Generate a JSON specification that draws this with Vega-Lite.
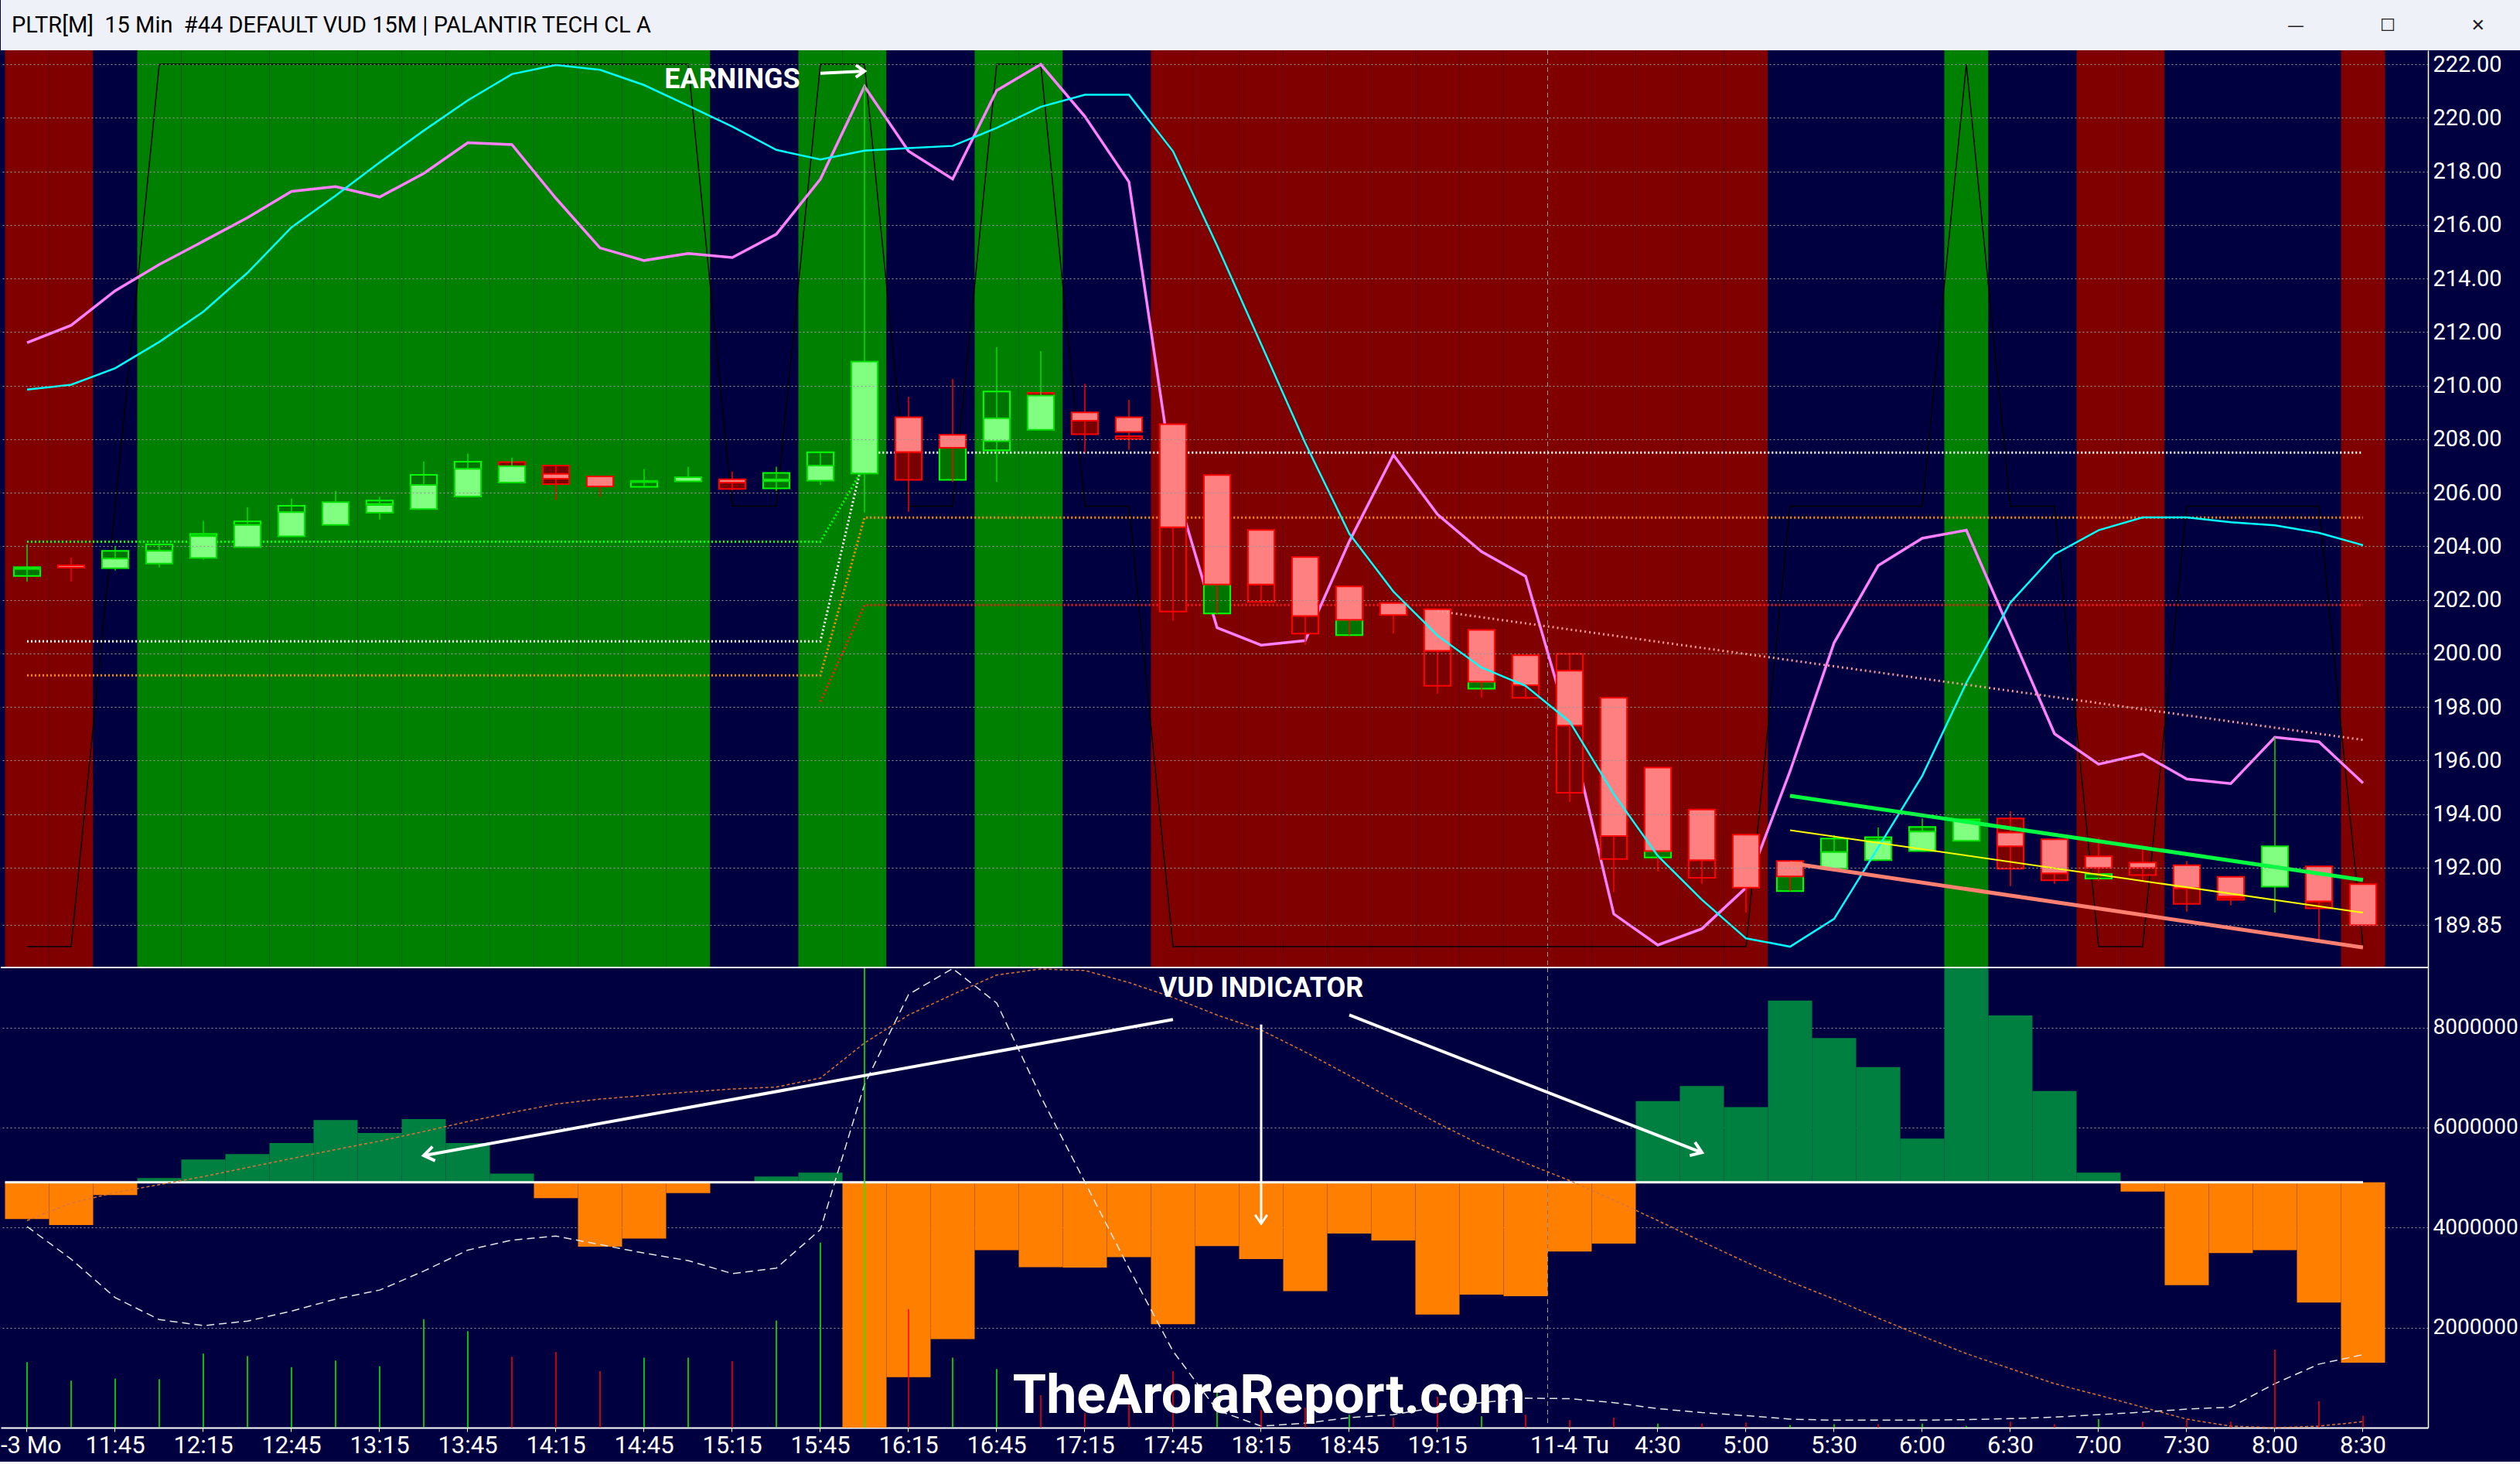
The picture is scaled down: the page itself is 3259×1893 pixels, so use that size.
{
  "$schema": "https://vega.github.io/schema/vega-lite/v6.json",
  "padding": {"left": 0, "top": 0, "right": 0, "bottom": 6},
  "background": "#000040",
  "spacing": 0,
  "bounds": "flush",
  "config": {"view": {"stroke": null}},
  "datasets": {
    "bars": [
      {"t":"11:15","i":0,"z":"R","sig":189.05,"o":203.16,"h":204.07,"l":202.68,"c":203.22,"s1":203.16,"s2":202.89,"sd":"up","ma":209.85,"osc":211.6,"vol":1310000,"vd":"up","vud":4170000,"wl":4020000,"ol":4140000},
      {"t":"11:30","i":1,"z":"R","sig":189.05,"o":203.29,"h":203.58,"l":202.68,"c":203.2,"ma":210.03,"osc":212.25,"vol":940000,"vd":"up","vud":4050000,"wl":3370000,"ol":4490000},
      {"t":"11:45","i":2,"z":"N","sig":205.5,"o":203.18,"h":204.01,"l":203.09,"c":203.54,"s1":203.83,"s2":203.54,"sd":"up","ma":210.65,"osc":213.54,"vol":980000,"vd":"up","vud":4650000,"wl":2600000,"ol":4700000},
      {"t":"12:00","i":3,"z":"G","sig":222,"o":203.35,"h":204.12,"l":203.21,"c":203.83,"s1":204.07,"s2":203.83,"sd":"up","ma":211.63,"osc":214.52,"vol":970000,"vd":"up","vud":4990000,"wl":2160000,"ol":4860000},
      {"t":"12:15","i":4,"z":"G","sig":222,"o":203.56,"h":204.94,"l":203.5,"c":204.38,"s1":204.46,"s2":204.38,"sd":"up","ma":212.76,"osc":215.39,"vol":1480000,"vd":"up","vud":5360000,"wl":2040000,"ol":5020000},
      {"t":"12:30","i":5,"z":"G","sig":222,"o":203.97,"h":205.46,"l":203.97,"c":204.8,"s1":204.93,"s2":204.8,"sd":"up","ma":214.21,"osc":216.27,"vol":1430000,"vd":"up","vud":5470000,"wl":2130000,"ol":5200000},
      {"t":"12:45","i":6,"z":"G","sig":222,"o":204.37,"h":205.78,"l":204.37,"c":205.27,"s1":205.51,"s2":205.27,"sd":"up","ma":215.91,"osc":217.25,"vol":1210000,"vd":"up","vud":5690000,"wl":2330000,"ol":5380000},
      {"t":"13:00","i":7,"z":"G","sig":222,"o":204.8,"h":206.07,"l":204.8,"c":205.65,"ma":217.09,"osc":217.43,"vol":1340000,"vd":"up","vud":6150000,"wl":2570000,"ol":5560000},
      {"t":"13:15","i":8,"z":"G","sig":222,"o":205.25,"h":205.84,"l":205.0,"c":205.54,"s1":205.71,"s2":205.58,"sd":"up","ma":218.33,"osc":217.04,"vol":1230000,"vd":"up","vud":5890000,"wl":2750000,"ol":5730000},
      {"t":"13:30","i":9,"z":"G","sig":222,"o":205.39,"h":207.17,"l":205.39,"c":206.29,"s1":206.67,"s2":206.29,"sd":"up","ma":219.52,"osc":217.92,"vol":2170000,"vd":"up","vud":6170000,"wl":3130000,"ol":5920000},
      {"t":"13:45","i":10,"z":"G","sig":222,"o":205.86,"h":207.46,"l":205.86,"c":206.89,"s1":207.16,"s2":206.89,"sd":"up","ma":220.65,"osc":219.07,"vol":1930000,"vd":"up","vud":5690000,"wl":3550000,"ol":6120000},
      {"t":"14:00","i":11,"z":"G","sig":222,"o":206.38,"h":207.31,"l":206.38,"c":206.99,"s1":207.14,"s2":206.99,"sd":"down","ma":221.63,"osc":219.0,"vol":1420000,"vd":"down","vud":5080000,"wl":3750000,"ol":6300000},
      {"t":"14:15","i":12,"z":"G","sig":222,"o":206.7,"h":207.01,"l":205.73,"c":206.52,"s1":207.01,"s2":206.32,"sd":"down","ma":221.97,"osc":216.99,"vol":1510000,"vd":"down","vud":4590000,"wl":3830000,"ol":6470000},
      {"t":"14:30","i":13,"z":"G","sig":222,"o":206.61,"h":206.61,"l":205.85,"c":206.23,"ma":221.79,"osc":215.14,"vol":1130000,"vd":"down","vud":3620000,"wl":3660000,"ol":6570000},
      {"t":"14:45","i":14,"z":"G","sig":222,"o":206.4,"h":206.88,"l":206.22,"c":206.44,"s1":206.4,"s2":206.22,"sd":"up","ma":221.22,"osc":214.67,"vol":1400000,"vd":"up","vud":3780000,"wl":3490000,"ol":6640000},
      {"t":"15:00","i":15,"z":"G","sig":222,"o":206.42,"h":206.97,"l":206.42,"c":206.58,"ma":220.45,"osc":214.93,"vol":1400000,"vd":"up","vud":4690000,"wl":3340000,"ol":6710000},
      {"t":"15:15","i":16,"z":"N","sig":205.5,"o":206.5,"h":206.79,"l":206.08,"c":206.38,"s1":206.38,"s2":206.14,"sd":"down","ma":219.67,"osc":214.78,"vol":1330000,"vd":"down","vud":4906000,"wl":3080000,"ol":6770000},
      {"t":"15:30","i":17,"z":"N","sig":205.5,"o":206.43,"h":206.97,"l":206.07,"c":206.5,"s1":206.74,"s2":206.16,"sd":"up","ma":218.8,"osc":215.65,"vol":2140000,"vd":"up","vud":5020000,"wl":3190000,"ol":6810000},
      {"t":"15:45","i":18,"z":"G","sig":222,"o":206.45,"h":207.51,"l":206.29,"c":207.01,"s1":207.51,"s2":207.01,"sd":"up","ma":218.44,"osc":217.71,"vol":3700000,"vd":"up","vud":5100000,"wl":3960000,"ol":6990000},
      {"t":"16:00","i":19,"z":"G","sig":222,"o":206.72,"h":221.2,"l":205.26,"c":210.9,"ma":218.77,"osc":221.17,"vol":12000000,"vd":"up","vud":0,"wl":6860000,"ol":7690000},
      {"t":"16:15","i":20,"z":"N","sig":205.5,"o":208.82,"h":209.58,"l":205.29,"c":207.52,"s1":207.52,"s2":206.48,"sd":"down","ma":218.87,"osc":218.75,"vol":2370000,"vd":"down","vud":1010000,"wl":8660000,"ol":8250000},
      {"t":"16:30","i":21,"z":"N","sig":205.5,"o":208.16,"h":210.25,"l":206.4,"c":207.68,"s1":207.68,"s2":206.48,"sd":"up","ma":218.95,"osc":217.71,"vol":1400000,"vd":"up","vud":1770000,"wl":9180000,"ol":8660000},
      {"t":"16:45","i":22,"z":"G","sig":222,"o":207.92,"h":211.43,"l":206.41,"c":208.78,"s1":209.78,"s2":207.58,"sd":"up","ma":219.62,"osc":221.02,"vol":1170000,"vd":"up","vud":3550000,"wl":8490000,"ol":9050000},
      {"t":"17:00","i":23,"z":"G","sig":222,"o":208.35,"h":211.29,"l":208.35,"c":209.63,"s1":209.73,"s2":209.63,"sd":"down","ma":220.41,"osc":221.99,"vol":650000,"vd":"down","vud":3210000,"wl":6620000,"ol":9170000},
      {"t":"17:15","i":24,"z":"N","sig":205.5,"o":209.0,"h":210.07,"l":207.5,"c":208.69,"s1":208.69,"s2":208.18,"sd":"down","ma":220.86,"osc":220.05,"vol":290000,"vd":"down","vud":3200000,"wl":4910000,"ol":9140000},
      {"t":"17:30","i":25,"z":"N","sig":205.5,"o":208.82,"h":209.47,"l":207.6,"c":208.27,"s1":208.11,"s2":208.01,"sd":"down","ma":220.86,"osc":217.61,"vol":500000,"vd":"down","vud":3410000,"wl":3190000,"ol":8900000},
      {"t":"17:45","i":26,"z":"R","sig":189.05,"o":208.56,"h":208.56,"l":201.22,"c":204.71,"s1":204.71,"s2":201.56,"sd":"down","ma":218.75,"osc":206.5,"vol":1130000,"vd":"down","vud":2070000,"wl":1530000,"ol":8600000},
      {"t":"18:00","i":27,"z":"R","sig":189.05,"o":206.66,"h":206.66,"l":201.49,"c":202.57,"s1":202.57,"s2":201.49,"sd":"up","ma":215.23,"osc":200.96,"vol":770000,"vd":"up","vud":3630000,"wl":350000,"ol":8250000},
      {"t":"18:15","i":28,"z":"R","sig":189.05,"o":204.61,"h":204.61,"l":201.85,"c":202.57,"s1":202.57,"s2":201.92,"sd":"down","ma":211.55,"osc":200.31,"vol":350000,"vd":"down","vud":3370000,"wl":30000,"ol":7950000},
      {"t":"18:30","i":29,"z":"R","sig":189.05,"o":203.6,"h":203.6,"l":200.33,"c":201.4,"s1":201.4,"s2":200.74,"sd":"down","ma":207.85,"osc":200.48,"vol":400000,"vd":"down","vud":2730000,"wl":90000,"ol":7510000},
      {"t":"18:45","i":30,"z":"R","sig":189.05,"o":202.5,"h":202.5,"l":200.68,"c":201.25,"s1":201.25,"s2":200.68,"sd":"up","ma":204.47,"osc":204.18,"vol":260000,"vd":"up","vud":3880000,"wl":200000,"ol":7040000},
      {"t":"19:00","i":31,"z":"R","sig":189.05,"o":201.88,"h":201.88,"l":200.74,"c":201.43,"ma":202.31,"osc":207.41,"vol":200000,"vd":"down","vud":3740000,"wl":260000,"ol":6560000},
      {"t":"19:15","i":32,"z":"R","sig":189.05,"o":201.65,"h":201.65,"l":198.5,"c":200.1,"s1":200.1,"s2":198.79,"sd":"down","ma":200.67,"osc":205.19,"vol":620000,"vd":"down","vud":2260000,"wl":410000,"ol":6090000},
      {"t":"19:30","i":33,"z":"R","sig":189.05,"o":200.88,"h":200.88,"l":198.36,"c":198.94,"s1":198.94,"s2":198.68,"sd":"up","ma":199.47,"osc":203.8,"vol":230000,"vd":"up","vud":2660000,"wl":500000,"ol":5650000},
      {"t":"19:45","i":34,"z":"R","sig":189.05,"o":199.93,"h":199.93,"l":198.3,"c":198.81,"s1":198.81,"s2":198.34,"sd":"down","ma":198.79,"osc":202.88,"vol":260000,"vd":"down","vud":2630000,"wl":590000,"ol":5290000},
      {"t":"4:00","i":35,"z":"R","sig":189.05,"o":199.35,"h":199.98,"l":194.46,"c":197.3,"s1":199.98,"s2":194.8,"sd":"down","ma":197.45,"osc":197.2,"vol":150000,"vd":"down","vud":3520000,"wl":580000,"ol":4940000},
      {"t":"4:15","i":36,"z":"R","sig":189.05,"o":198.34,"h":198.34,"l":191.09,"c":193.18,"s1":193.18,"s2":192.32,"sd":"down","ma":194.75,"osc":190.27,"vol":200000,"vd":"down","vud":3680000,"wl":500000,"ol":4550000},
      {"t":"4:30","i":37,"z":"R","sig":189.05,"o":195.74,"h":195.74,"l":191.86,"c":192.62,"s1":192.62,"s2":192.38,"sd":"up","ma":192.44,"osc":189.11,"vol":80000,"vd":"up","vud":6530000,"wl":380000,"ol":4140000},
      {"t":"4:45","i":38,"z":"R","sig":189.05,"o":194.17,"h":194.17,"l":191.4,"c":192.28,"s1":192.28,"s2":191.62,"sd":"down","ma":190.8,"osc":189.72,"vol":80000,"vd":"down","vud":6830000,"wl":300000,"ol":3720000},
      {"t":"5:00","i":39,"z":"R","sig":189.05,"o":193.23,"h":193.23,"l":190.32,"c":191.25,"ma":189.36,"osc":191.25,"vol":100000,"vd":"down","vud":6410000,"wl":240000,"ol":3310000},
      {"t":"5:15","i":40,"z":"N","sig":205.5,"o":192.25,"h":192.25,"l":191.12,"c":191.67,"s1":191.67,"s2":191.12,"sd":"up","ma":189.05,"osc":195.6,"vol":50000,"vd":"up","vud":8540000,"wl":170000,"ol":2920000},
      {"t":"5:30","i":41,"z":"N","sig":205.5,"o":191.96,"h":193.21,"l":191.96,"c":192.58,"s1":193.09,"s2":192.58,"sd":"up","ma":190.09,"osc":200.4,"vol":70000,"vd":"up","vud":7790000,"wl":150000,"ol":2570000},
      {"t":"5:45","i":42,"z":"N","sig":205.5,"o":192.28,"h":193.5,"l":192.28,"c":193.02,"s1":193.14,"s2":193.02,"sd":"up","ma":192.75,"osc":203.28,"vol":70000,"vd":"down","vud":7210000,"wl":150000,"ol":2190000},
      {"t":"6:00","i":43,"z":"N","sig":205.5,"o":192.62,"h":193.84,"l":192.62,"c":193.35,"s1":193.52,"s2":193.35,"sd":"up","ma":195.43,"osc":204.3,"vol":80000,"vd":"up","vud":5780000,"wl":150000,"ol":1830000},
      {"t":"6:15","i":44,"z":"G","sig":222,"o":193.0,"h":193.8,"l":193.0,"c":193.74,"s1":193.8,"s2":193.74,"sd":"up","ma":198.9,"osc":204.6,"vol":30000,"vd":"up","vud":9500000,"wl":160000,"ol":1480000},
      {"t":"6:30","i":45,"z":"N","sig":205.5,"o":193.31,"h":194.11,"l":191.31,"c":192.8,"s1":193.84,"s2":191.96,"sd":"down","ma":201.9,"osc":200.8,"vol":120000,"vd":"down","vud":8240000,"wl":180000,"ol":1180000},
      {"t":"6:45","i":46,"z":"N","sig":205.5,"o":193.06,"h":193.06,"l":191.4,"c":191.79,"s1":191.79,"s2":191.53,"sd":"down","ma":203.7,"osc":197.0,"vol":70000,"vd":"down","vud":6730000,"wl":210000,"ol":880000},
      {"t":"7:00","i":47,"z":"R","sig":189.05,"o":192.42,"h":193.12,"l":191.5,"c":191.99,"s1":191.76,"s2":191.59,"sd":"up","ma":204.6,"osc":195.86,"vol":170000,"vd":"up","vud":5100000,"wl":260000,"ol":650000},
      {"t":"7:15","i":48,"z":"R","sig":189.05,"o":192.19,"h":192.81,"l":191.48,"c":191.99,"s1":191.99,"s2":191.72,"sd":"down","ma":205.08,"osc":196.24,"vol":120000,"vd":"down","vud":4720000,"wl":310000,"ol":410000},
      {"t":"7:30","i":49,"z":"N","sig":205.5,"o":192.09,"h":192.25,"l":190.36,"c":191.23,"s1":191.23,"s2":190.65,"sd":"down","ma":205.08,"osc":195.31,"vol":170000,"vd":"down","vud":2850000,"wl":370000,"ol":170000},
      {"t":"7:45","i":50,"z":"N","sig":205.5,"o":191.66,"h":191.66,"l":190.59,"c":190.92,"s1":190.88,"s2":190.8,"sd":"down","ma":204.9,"osc":195.14,"vol":120000,"vd":"down","vud":3490000,"wl":410000,"ol":30000},
      {"t":"8:00","i":51,"z":"N","sig":205.5,"o":191.29,"h":196.87,"l":190.32,"c":192.8,"ma":204.78,"osc":196.87,"vol":1560000,"vd":"down","vud":3550000,"wl":880000,"ol":0},
      {"t":"8:15","i":52,"z":"N","sig":205.5,"o":192.05,"h":192.05,"l":189.31,"c":190.74,"s1":190.74,"s2":190.48,"sd":"down","ma":204.5,"osc":196.7,"vol":530000,"vd":"down","vud":2500000,"wl":1270000,"ol":30000},
      {"t":"8:30","i":53,"z":"R","sig":189.05,"o":191.38,"h":191.38,"l":189.82,"c":189.85,"ma":204.04,"osc":195.16,"vol":240000,"vd":"down","vud":1300000,"wl":1460000,"ol":120000}
    ],
    "levels": [
      {"lv":"o","t":"11:15","p":199.18},{"lv":"o","t":"15:45","p":199.18},{"lv":"o","t":"16:00","p":205.07},{"lv":"o","t":"8:30","p":205.07},
      {"lv":"w","t":"11:15","p":200.45},{"lv":"w","t":"15:45","p":200.45},{"lv":"w","t":"16:00","p":207.5},{"lv":"w","t":"8:30","p":207.5},
      {"lv":"g","t":"11:15","p":204.17},{"lv":"g","t":"15:45","p":204.17},{"lv":"g","t":"16:00","p":207.0},
      {"lv":"r","t":"15:45","p":198.2},{"lv":"r","t":"16:00","p":201.81},{"lv":"r","t":"8:30","p":201.81}
    ],
    "chan": [
      {"k":"g","t":"5:15","p":194.68},{"k":"g","t":"8:30","p":191.54},
      {"k":"y","t":"5:15","p":193.4},{"k":"y","t":"8:30","p":190.32},
      {"k":"s","t":"5:15","p":192.17},{"k":"s","t":"8:30","p":189.02},
      {"k":"p","t":"19:15","p":201.58},{"k":"p","t":"8:30","p":196.77}
    ]
  },
  "vconcat": [
    {
      "width": 3259,
      "height": 65,
      "view": {"fill": "#eff1f8", "stroke": null},
      "data": {"values": [{"title": "PLTR[M]\u00a0 15 Min\u00a0 #44 DEFAULT VUD 15M | PALANTIR TECH CL A", "btn": "\u2014\u00a0\u00a0\u00a0\u00a0\u00a0\u00a0\u00a0\u00a0\u00a0\u00a0\u00a0\u00a0\u00a0\u00a0\u2610\u00a0\u00a0\u00a0\u00a0\u00a0\u00a0\u00a0\u00a0\u00a0\u00a0\u00a0\u00a0\u00a0\u00a0\u2715"}]},
      "layer": [
        {
          "mark": {"type": "text", "align": "left", "baseline": "middle", "font": "Roboto", "fontSize": 29, "color": "#000000", "dx": 14},
          "encoding": {
            "x": {"datum": 0, "type": "quantitative", "scale": {"domain": [0, 1]}, "axis": null},
            "text": {"field": "title"}
          }
        },
        {
          "mark": {"type": "text", "align": "right", "baseline": "middle", "font": "DejaVu Sans", "fontSize": 22, "color": "#202020", "dx": -46},
          "encoding": {
            "x": {"datum": 1, "type": "quantitative", "axis": null},
            "text": {"field": "btn"}
          }
        }
      ]
    },
    {
      "width": 3139,
      "height": 1186,
      "view": {"fill": "#000040", "stroke": null},
      "data": {"name": "bars"},
      "layer": [
        {
          "mark": {"type": "rect", "strokeWidth": 0},
          "encoding": {
            "x": {"field": "t", "type": "ordinal", "axis": null,
              "scale": {"domain": ["11:15","11:30","11:45","12:00","12:15","12:30","12:45","13:00","13:15","13:30","13:45","14:00","14:15","14:30","14:45","15:00","15:15","15:30","15:45","16:00","16:15","16:30","16:45","17:00","17:15","17:30","17:45","18:00","18:15","18:30","18:45","19:00","19:15","19:30","19:45","4:00","4:15","4:30","4:45","5:00","5:15","5:30","5:45","6:00","6:15","6:30","6:45","7:00","7:15","7:30","7:45","8:00","8:15","8:30"],
                "paddingInner": 0, "paddingOuter": 0.535, "align": 0.09, "round": false}},
            "color": {"field": "z", "type": "nominal", "scale": {"domain": ["G","N","R"], "range": ["#008000","#000040","#800000"]}, "legend": null}
          }
        },
        {
          "data": {"values": [{}]},
          "mark": {"type": "rule", "color": "#9a9a9a", "strokeDash": [6, 5], "strokeWidth": 1},
          "encoding": {"x": {"datum": "4:00", "type": "ordinal", "bandPosition": 0, "axis": null}}
        },
        {
          "mark": {"type": "line", "color": "#000000", "strokeWidth": 1.5},
          "encoding": {
            "x": {"field": "t", "type": "ordinal", "axis": null},
            "y": {"field": "sig", "type": "quantitative", "axis": {"orient": "right"}},
            "order": {"field": "i"}
          }
        },
        {
          "data": {"name": "levels"},
          "transform": [{"filter": "datum.lv == 'o'"}],
          "mark": {"type": "line", "color": "#ff8c00", "strokeWidth": 3, "strokeDash": [2, 3]},
          "encoding": {"x": {"field": "t", "type": "ordinal", "axis": null}, "y": {"field": "p", "type": "quantitative", "axis": {"orient": "right"}}}
        },
        {
          "data": {"name": "levels"},
          "transform": [{"filter": "datum.lv == 'w'"}],
          "mark": {"type": "line", "color": "#ffffff", "strokeWidth": 3, "strokeDash": [2, 3]},
          "encoding": {"x": {"field": "t", "type": "ordinal", "axis": null}, "y": {"field": "p", "type": "quantitative", "axis": {"orient": "right"}}}
        },
        {
          "data": {"name": "levels"},
          "transform": [{"filter": "datum.lv == 'g'"}],
          "mark": {"type": "line", "color": "#00ff00", "strokeWidth": 3, "strokeDash": [2, 3]},
          "encoding": {"x": {"field": "t", "type": "ordinal", "axis": null}, "y": {"field": "p", "type": "quantitative", "axis": {"orient": "right"}}}
        },
        {
          "data": {"name": "levels"},
          "transform": [{"filter": "datum.lv == 'r'"}],
          "mark": {"type": "line", "color": "#ff1a1a", "strokeWidth": 3, "strokeDash": [2, 3]},
          "encoding": {"x": {"field": "t", "type": "ordinal", "axis": null}, "y": {"field": "p", "type": "quantitative", "axis": {"orient": "right"}}}
        },
        {
          "mark": {"type": "line", "color": "#ff80ff", "strokeWidth": 3.5},
          "encoding": {
            "x": {"field": "t", "type": "ordinal", "axis": null},
            "y": {"field": "osc", "type": "quantitative", "axis": {"orient": "right"}},
            "order": {"field": "i"}
          }
        },
        {
          "mark": {"type": "bar", "width": {"band": 0.6}, "strokeWidth": 2},
          "encoding": {
            "x": {"field": "t", "type": "ordinal", "axis": null},
            "y": {"field": "s1", "type": "quantitative", "axis": {"orient": "right"}},
            "y2": {"field": "s2"},
            "fill": {"condition": {"test": "datum.sd == 'up'", "value": "#007400"}, "value": "#780000"},
            "stroke": {"condition": {"test": "datum.sd == 'up'", "value": "#00ff00"}, "value": "#ff0000"}
          }
        },
        {
          "mark": {"type": "rule", "strokeWidth": 1.5},
          "encoding": {
            "x": {"field": "t", "type": "ordinal", "axis": null},
            "y": {"field": "l", "type": "quantitative", "axis": {"orient": "right"}},
            "y2": {"field": "h"},
            "color": {"condition": {"test": "datum.c >= datum.o", "value": "#00e000"}, "value": "#ff0000"}
          }
        },
        {
          "mark": {"type": "bar", "width": {"band": 0.6}, "strokeWidth": 2},
          "encoding": {
            "x": {"field": "t", "type": "ordinal", "axis": null},
            "y": {"field": "o", "type": "quantitative",
              "scale": {"domain": [188.272, 222.52], "zero": false, "nice": false},
              "axis": {"orient": "right", "title": null, "values": [189.85, 192, 194, 196, 198, 200, 202, 204, 206, 208, 210, 212, 214, 216, 218, 220, 222], "format": ".2f",
                "grid": true, "gridColor": "#9a9a9a", "gridDash": [2, 3], "gridWidth": 1.2, "ticks": false,
                "domain": true, "domainColor": "#ffffff", "domainWidth": 1.5,
                "labelColor": "#ffffff", "labelFont": "Roboto", "labelFontSize": 29, "labelPadding": 6, "labelOverlap": false, "labelLimit": 114, "zindex": 1}},
            "y2": {"field": "c"},
            "fill": {"condition": {"test": "datum.c >= datum.o", "value": "#80ff80"}, "value": "#ff8080"},
            "stroke": {"condition": {"test": "datum.c >= datum.o", "value": "#00e000"}, "value": "#ff0000"}
          }
        },
        {
          "mark": {"type": "line", "color": "#00ffff", "strokeWidth": 2.5},
          "encoding": {
            "x": {"field": "t", "type": "ordinal", "axis": null},
            "y": {"field": "ma", "type": "quantitative", "axis": {"orient": "right"}},
            "order": {"field": "i"}
          }
        },
        {
          "data": {"name": "chan"},
          "transform": [{"filter": "datum.k == 'p'"}],
          "mark": {"type": "line", "color": "#ff9a9a", "strokeWidth": 3, "strokeDash": [2, 4]},
          "encoding": {"x": {"field": "t", "type": "ordinal", "axis": null}, "y": {"field": "p", "type": "quantitative", "axis": {"orient": "right"}}}
        },
        {
          "data": {"name": "chan"},
          "transform": [{"filter": "datum.k == 's'"}],
          "mark": {"type": "line", "color": "#ff8070", "strokeWidth": 5},
          "encoding": {"x": {"field": "t", "type": "ordinal", "axis": null}, "y": {"field": "p", "type": "quantitative", "axis": {"orient": "right"}}}
        },
        {
          "data": {"name": "chan"},
          "transform": [{"filter": "datum.k == 'y'"}],
          "mark": {"type": "line", "color": "#ffff00", "strokeWidth": 2},
          "encoding": {"x": {"field": "t", "type": "ordinal", "axis": null}, "y": {"field": "p", "type": "quantitative", "axis": {"orient": "right"}}}
        },
        {
          "data": {"name": "chan"},
          "transform": [{"filter": "datum.k == 'g'"}],
          "mark": {"type": "line", "color": "#00ff40", "strokeWidth": 5},
          "encoding": {"x": {"field": "t", "type": "ordinal", "axis": null}, "y": {"field": "p", "type": "quantitative", "axis": {"orient": "right"}}}
        },
        {
          "data": {"values": [{}]},
          "mark": {"type": "text", "text": "EARNINGS", "font": "Roboto", "fontSize": 36, "fontWeight": "bold", "color": "#ffffff", "align": "center", "baseline": "middle"},
          "encoding": {
            "x": {"datum": "15:15", "type": "ordinal", "axis": null},
            "y": {"datum": 221.42, "type": "quantitative", "axis": {"orient": "right"}}
          }
        },
        {
          "data": {"values": [{}]},
          "mark": {"type": "rule", "color": "#ffffff", "strokeWidth": 4},
          "encoding": {
            "x": {"datum": "15:45", "type": "ordinal", "axis": null},
            "x2": {"datum": "16:00"},
            "y": {"datum": 221.66, "type": "quantitative", "axis": {"orient": "right"}},
            "y2": {"datum": 221.74}
          }
        },
        {
          "data": {"values": [{}]},
          "mark": {"type": "point", "shape": "M -0.7 1 L 0 0 L 0.7 1", "size": 500, "filled": false, "stroke": "#ffffff", "strokeWidth": 4, "angle": 90, "opacity": 1},
          "encoding": {
            "x": {"datum": "16:00", "type": "ordinal", "axis": null},
            "y": {"datum": 221.74, "type": "quantitative", "axis": {"orient": "right"}}
          }
        }
      ]
    },
    {
      "width": 3139,
      "height": 595,
      "view": {"fill": "#000040", "stroke": null},
      "data": {"name": "bars"},
      "layer": [
        {
          "mark": {"type": "bar", "width": {"band": 1}, "clip": true},
          "encoding": {
            "x": {"field": "t", "type": "ordinal",
              "scale": {"domain": ["11:15","11:30","11:45","12:00","12:15","12:30","12:45","13:00","13:15","13:30","13:45","14:00","14:15","14:30","14:45","15:00","15:15","15:30","15:45","16:00","16:15","16:30","16:45","17:00","17:15","17:30","17:45","18:00","18:15","18:30","18:45","19:00","19:15","19:30","19:45","4:00","4:15","4:30","4:45","5:00","5:15","5:30","5:45","6:00","6:15","6:30","6:45","7:00","7:15","7:30","7:45","8:00","8:15","8:30"],
                "paddingInner": 0, "paddingOuter": 0.535, "align": 0.09, "round": false},
              "axis": {"title": null, "values": ["11:15","11:45","12:15","12:45","13:15","13:45","14:15","14:45","15:15","15:45","16:15","16:45","17:15","17:45","18:15","18:45","19:15","4:00","4:30","5:00","5:30","6:00","6:30","7:00","7:30","8:00","8:30"],
                "labelExpr": "datum.value == '11:15' ? '-3 Mo' : (datum.value == '4:00' ? '11-4 Tu' : datum.value)",
                "labelFlush": 40, "labelFlushOffset": 34,
                "domain": true, "domainColor": "#ffffff", "domainWidth": 2, "ticks": true, "tickColor": "#ffffff", "tickSize": 5,
                "labelColor": "#ffffff", "labelFont": "Roboto", "labelFontSize": 31, "labelPadding": 3, "labelAngle": 0, "labelOverlap": false, "grid": false}},
            "y": {"field": "vud", "type": "quantitative",
              "scale": {"domain": [0, 9200000], "zero": false, "nice": false},
              "axis": {"orient": "right", "title": null, "values": [2000000, 4000000, 6000000, 8000000], "format": "d",
                "grid": true, "gridColor": "#9a9a9a", "gridDash": [2, 3], "gridWidth": 1.2, "ticks": false,
                "domain": true, "domainColor": "#ffffff", "domainWidth": 1.5,
                "labelColor": "#ffffff", "labelFont": "Roboto", "labelFontSize": 28, "labelPadding": 6, "labelLimit": 116}},
            "y2": {"datum": 4906000},
            "color": {"condition": {"test": "datum.vud > 4906000", "value": "#008040"}, "value": "#ff8000"}
          }
        },
        {
          "data": {"values": [{}]},
          "mark": {"type": "rule", "color": "#9a9a9a", "strokeDash": [6, 5], "strokeWidth": 1},
          "encoding": {"x": {"datum": "4:00", "type": "ordinal", "bandPosition": 0}}
        },
        {
          "data": {"values": [{}]},
          "mark": {"type": "rule", "color": "#ffffff", "strokeWidth": 3},
          "encoding": {
            "x": {"datum": "11:15", "type": "ordinal", "bandPosition": 0},
            "x2": {"datum": "8:30"},
            "y": {"datum": 4906000, "type": "quantitative", "axis": {"orient": "right"}}
          }
        },
        {
          "mark": {"type": "line", "color": "#d8743c", "strokeWidth": 1.5, "strokeDash": [4, 3]},
          "encoding": {
            "x": {"field": "t", "type": "ordinal"},
            "y": {"field": "ol", "type": "quantitative", "axis": {"orient": "right"}},
            "order": {"field": "i"}
          }
        },
        {
          "mark": {"type": "line", "color": "#e6e6e6", "strokeWidth": 1.5, "strokeDash": [10, 6]},
          "encoding": {
            "x": {"field": "t", "type": "ordinal"},
            "y": {"field": "wl", "type": "quantitative", "axis": {"orient": "right"}},
            "order": {"field": "i"}
          }
        },
        {
          "mark": {"type": "rule", "strokeWidth": 1.5, "clip": true},
          "encoding": {
            "x": {"field": "t", "type": "ordinal"},
            "y": {"field": "vol", "type": "quantitative", "axis": {"orient": "right"}},
            "y2": {"datum": 0},
            "color": {"condition": {"test": "datum.vd == 'up'", "value": "#00ff00"}, "value": "#ff0000"}
          }
        },
        {
          "data": {"values": [{}]},
          "mark": {"type": "rule", "color": "#ffffff", "strokeWidth": 2},
          "encoding": {"y": {"datum": 9200000, "type": "quantitative", "axis": {"orient": "right"}}}
        },
        {
          "data": {"values": [{}]},
          "mark": {"type": "rule", "color": "#ffffff", "strokeWidth": 4},
          "encoding": {
            "x": {"datum": "17:45", "type": "ordinal"}, "x2": {"datum": "13:30"},
            "y": {"datum": 8160000, "type": "quantitative", "axis": {"orient": "right"}}, "y2": {"datum": 5440000}
          }
        },
        {
          "data": {"values": [{}]},
          "mark": {"type": "point", "shape": "M -0.7 1 L 0 0 L 0.7 1", "size": 700, "filled": false, "stroke": "#ffffff", "strokeWidth": 4, "angle": 259.7, "opacity": 1},
          "encoding": {
            "x": {"datum": "13:30", "type": "ordinal"},
            "y": {"datum": 5440000, "type": "quantitative", "axis": {"orient": "right"}}
          }
        },
        {
          "data": {"values": [{}]},
          "mark": {"type": "rule", "color": "#ffffff", "strokeWidth": 3},
          "encoding": {
            "x": {"datum": "18:15", "type": "ordinal"}, "x2": {"datum": "18:15"},
            "y": {"datum": 8060000, "type": "quantitative", "axis": {"orient": "right"}}, "y2": {"datum": 4080000}
          }
        },
        {
          "data": {"values": [{}]},
          "mark": {"type": "point", "shape": "M -0.7 1 L 0 0 L 0.7 1", "size": 500, "filled": false, "stroke": "#ffffff", "strokeWidth": 3, "angle": 180, "opacity": 1},
          "encoding": {
            "x": {"datum": "18:15", "type": "ordinal"},
            "y": {"datum": 4080000, "type": "quantitative", "axis": {"orient": "right"}}
          }
        },
        {
          "data": {"values": [{}]},
          "mark": {"type": "rule", "color": "#ffffff", "strokeWidth": 4},
          "encoding": {
            "x": {"datum": "18:45", "type": "ordinal"}, "x2": {"datum": "4:45"},
            "y": {"datum": 8250000, "type": "quantitative", "axis": {"orient": "right"}}, "y2": {"datum": 5500000}
          }
        },
        {
          "data": {"values": [{}]},
          "mark": {"type": "point", "shape": "M -0.7 1 L 0 0 L 0.7 1", "size": 700, "filled": false, "stroke": "#ffffff", "strokeWidth": 4, "angle": 111.3, "opacity": 1},
          "encoding": {
            "x": {"datum": "4:45", "type": "ordinal"},
            "y": {"datum": 5500000, "type": "quantitative", "axis": {"orient": "right"}}
          }
        },
        {
          "data": {"values": [{}]},
          "mark": {"type": "text", "text": "VUD INDICATOR", "font": "Roboto", "fontSize": 36, "fontWeight": "bold", "color": "#ffffff", "align": "center", "baseline": "middle"},
          "encoding": {
            "x": {"datum": "18:15", "type": "ordinal"},
            "y": {"datum": 8775000, "type": "quantitative", "axis": {"orient": "right"}}
          }
        },
        {
          "data": {"values": [{}]},
          "mark": {"type": "text", "text": "TheAroraReport.com", "font": "Roboto", "fontSize": 70, "fontWeight": "bold", "color": "#ffffff", "align": "center", "baseline": "middle"},
          "encoding": {
            "x": {"datum": "18:15", "type": "ordinal", "bandPosition": 0.68},
            "y": {"datum": 620000, "type": "quantitative", "axis": {"orient": "right"}}
          }
        }
      ]
    }
  ]
}
